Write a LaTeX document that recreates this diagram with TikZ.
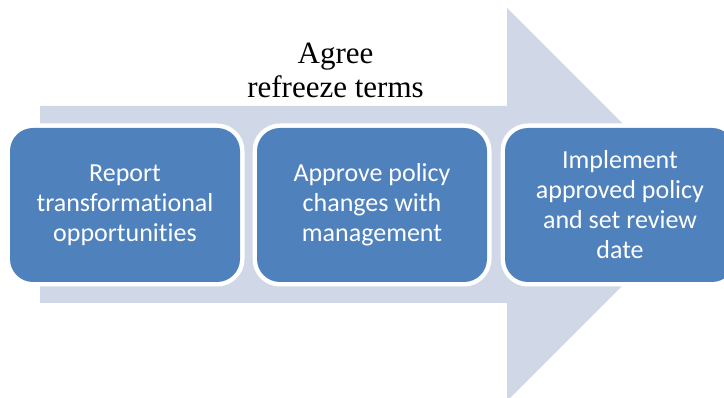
\documentclass[tikz,border=0pt]{standalone}
\usepackage{fontspec}
\setmainfont{Liberation Serif}
\newfontfamily\boxfont[Ligatures=NoCommon]{Carlito}
\definecolor{arrowfill}{HTML}{D0D8E8}
\definecolor{boxfill}{HTML}{4F81BD}
\begin{document}
\begin{tikzpicture}[x=1pt,y=-1pt,
  stepbox/.style={fill=boxfill, rounded corners=23pt, minimum width=230pt, minimum height=154pt,
    inner sep=0pt, outer sep=0pt, anchor=north west,
    preaction={draw=white, line width=9pt, rounded corners=23pt}},
  steptext/.style={text=white, font=\boxfont\fontsize{26}{30}\selectfont, align=center, inner sep=0pt},
  titletext/.style={font=\fontsize{31}{34}\selectfont, align=center, inner sep=0pt}]
\useasboundingbox (0,0) rectangle (724,398);
\fill[arrowfill] (40,106) -- (507,106) -- (507,8) -- (703.5,204.5) -- (507,401) -- (507,303) -- (40,303) -- cycle;
\node[titletext] (title) at (335.5,70) {Agree\\refreeze terms};
\node[stepbox] (b1) at (10,128) {};
\node[stepbox] (b2) at (257,128) {};
\node[stepbox] (b3) at (505,128) {};
\node[steptext] (t1) at (b1.center) {Report\\transformational\\opportunities};
\node[steptext] (t2) at (b2.center) {Approve policy\\changes with\\management};
\node[steptext] (t3) at (b3.center) {Implement\\approved policy\\and set review\\date};
\end{tikzpicture}
\end{document}
